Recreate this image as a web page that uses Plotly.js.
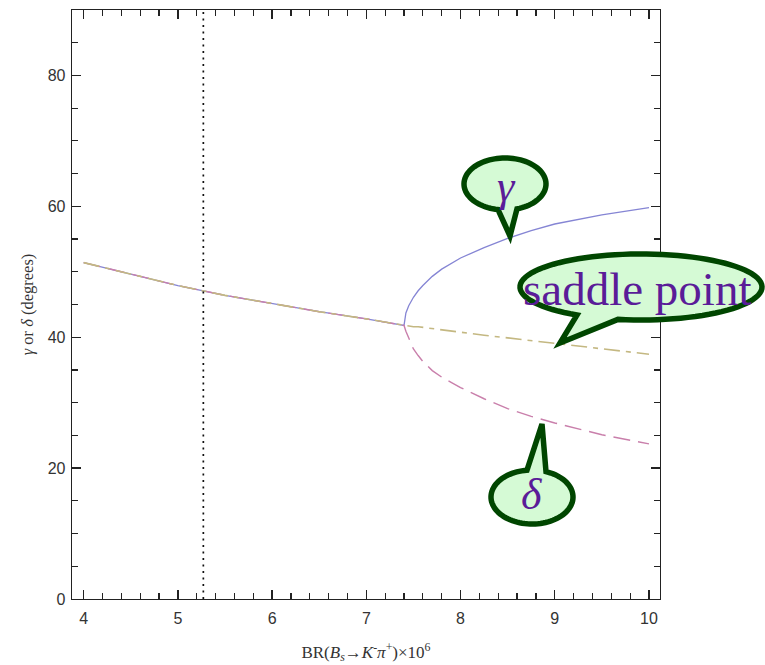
<!DOCTYPE html>
<html>
<head>
<meta charset="utf-8">
<script src="https://cdn.plot.ly/plotly-3.0.1.min.js"></script>
<style>html,body{margin:0;padding:0;background:#fff;}#plot{width:765px;height:665px;}</style>
</head>
<body>
<div id="plot"></div>
<script>
// ---- data ----
const xCommon = [4.0, 4.5, 5.0, 5.5, 6.0, 6.5, 7.0, 7.4];
const yCommon = [51.4, 49.6, 47.9, 46.4, 45.1, 43.9, 42.8, 41.8];

const xBranch      = [7.4, 7.42, 7.45, 7.5, 7.55, 7.6, 7.7, 7.8, 7.9, 8.0, 8.25, 8.5, 8.75, 9.0, 9.5, 10.0];
const gammaBranch  = [41.8, 43.7, 44.8, 46.1, 47.1, 47.9, 49.3, 50.4, 51.3, 52.1, 53.7, 55.1, 56.3, 57.3, 58.7, 59.8];
const saddleBranch = [41.8, 41.8, 41.7, 41.6, 41.6, 41.5, 41.3, 41.2, 41.0, 40.8, 40.3, 39.9, 39.5, 39.1, 38.3, 37.4];
const deltaBranch  = [41.8, 40.9, 39.9, 38.2, 37.2, 36.3, 34.9, 33.9, 33.1, 32.3, 30.6, 29.1, 27.9, 26.9, 25.1, 23.7];

const xVline = 5.27;
const yVlineRange = [0, 90];

const xTickVals = [4, 5, 6, 7, 8, 9, 10];
const yTickVals = [0, 20, 40, 60, 80];

const bubbleLabels = ['<i>γ</i>', 'saddle point', '<i>δ</i>'];

// full series = common segment + branch
const xFull = xCommon.concat(xBranch.slice(1));
const gammaFull  = yCommon.concat(gammaBranch.slice(1));
const saddleFull = yCommon.concat(saddleBranch.slice(1));
const deltaFull  = yCommon.concat(deltaBranch.slice(1));

const traces = [
  {x: xFull, y: gammaFull, mode: 'lines', line: {color: '#8585d4', width: 1.3}, hoverinfo: 'skip'},
  {x: xFull, y: deltaFull, mode: 'lines', line: {color: '#c97fab', width: 1.4, dash: '17px,8px'}, hoverinfo: 'skip'},
  {x: xFull, y: saddleFull, mode: 'lines', line: {color: '#c4b882', width: 1.6, dash: '16px,6px,5px,6px'}, hoverinfo: 'skip'},
  {x: [xVline, xVline], y: yVlineRange, mode: 'lines', line: {color: '#111', width: 1.7, dash: '2px,4.5px'}, hoverinfo: 'skip'}
];

// ---- speech bubble decorations (pixel geometry -> paper coords) ----
const L = 72, T = 10, W = 588, H = 589;
function px2p(x, y) { return [(x - L) / W, (T + H - y) / H]; }
function bubblePath(cx, cy, rx, ry, bx1, bx2, tipx, tipy, side) {
  let t1, t2, end, pts = [];
  const n = 90;
  if (side === 'bottom') {
    t1 = Math.acos((bx1 - cx) / rx); t2 = Math.acos((bx2 - cx) / rx); end = t1 - 2 * Math.PI;
  } else {
    t1 = -Math.acos((bx1 - cx) / rx); t2 = -Math.acos((bx2 - cx) / rx); end = t1 + 2 * Math.PI;
  }
  for (let i = 0; i <= n; i++) { const t = t2 + (end - t2) * i / n; pts.push([cx + rx * Math.cos(t), cy + ry * Math.sin(t)]); }
  const all = [[tipx, tipy]].concat(pts);
  return all.map((p, i) => { const q = px2p(p[0], p[1]); return (i ? 'L' : 'M') + q[0].toFixed(5) + ',' + q[1].toFixed(5); }).join(' ') + ' Z';
}
const bubbleStyle = {type: 'path', xref: 'paper', yref: 'paper', line: {color: '#004600', width: 5.5}, fillcolor: '#d5fad5', layer: 'above'};
const shapes = [
  Object.assign({path: bubblePath(505, 184, 41, 26, 498, 517, 510, 236, 'bottom')}, bubbleStyle),
  Object.assign({path: bubblePath(641, 287, 121, 33, 577, 618, 560, 343, 'bottom')}, bubbleStyle),
  Object.assign({path: bubblePath(532, 497, 41, 27, 527, 546, 542, 424, 'top')}, bubbleStyle)
];
const serif = 'Liberation Serif';
function ann(text, x, y, size) {
  const p = px2p(x, y);
  return {text: text, x: p[0], y: p[1], xref: 'paper', yref: 'paper', showarrow: false, xanchor: 'center', yanchor: 'middle',
          font: {family: serif, size: size, color: '#5a1c98'}};
}
const annotations = [
  ann(bubbleLabels[0], 506, 186, 44),
  ann(bubbleLabels[1], 637, 289, 47),
  ann(bubbleLabels[2], 532, 494, 44)
];

const axisCommon = {
  showline: true, linecolor: '#222', linewidth: 1.3, mirror: 'ticks',
  ticks: 'inside', ticklen: 9, tickwidth: 1.3, tickcolor: '#222',
  showgrid: false, zeroline: false,
  tickfont: {family: 'Liberation Sans', size: 16, color: '#333'}
};
const layout = {
  width: 765, height: 665,
  margin: {l: 72, r: 105, t: 10, b: 66},
  paper_bgcolor: '#fff', plot_bgcolor: '#fff',
  showlegend: false,
  xaxis: Object.assign({}, axisCommon, {
    range: [3.876, 10.117], tickmode: 'array', tickvals: xTickVals, ticktext: xTickVals.map(String),
    ticklabelstandoff: 4,
    minor: {dtick: 0.2, tick0: 4, ticks: 'inside', ticklen: 6, tickwidth: 1.2, tickcolor: '#222', showgrid: false},
    title: {text: 'BR(<i>B<sub>s</sub></i>→<i>K</i><sup>-</sup><i>π</i><sup>+</sup>)×10<sup>6</sup>', font: {family: serif, size: 17, color: '#333'}, standoff: 20}
  }),
  yaxis: Object.assign({}, axisCommon, {
    range: [0, 90], tickmode: 'array', tickvals: yTickVals, ticktext: yTickVals.map(String),
    ticklabelstandoff: 2,
    minor: {dtick: 5, tick0: 0, ticks: 'inside', ticklen: 6, tickwidth: 1.2, tickcolor: '#222', showgrid: false},
    title: {text: '<i>γ</i> or <i>δ</i> (degrees)', font: {family: serif, size: 16.5, color: '#333'}, standoff: 10}
  }),
  shapes: shapes,
  annotations: annotations
};
Plotly.newPlot('plot', traces, layout, {displayModeBar: false, staticPlot: true});
</script>
</body>
</html>
